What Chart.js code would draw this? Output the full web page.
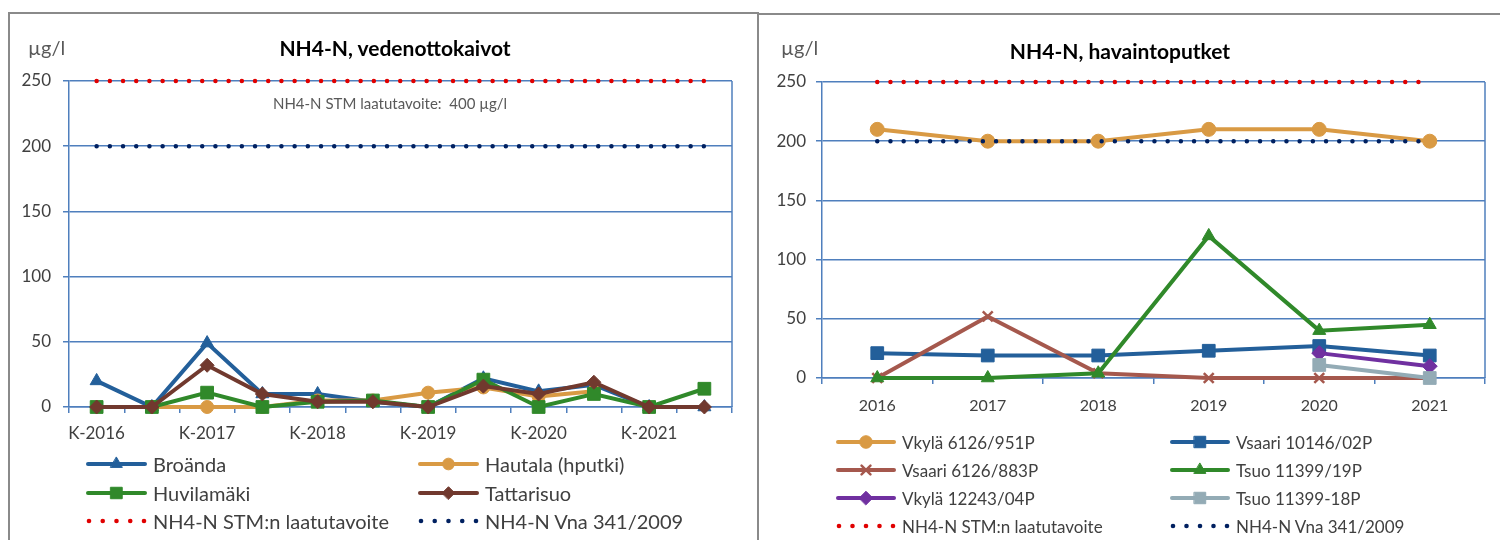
<!DOCTYPE html>
<html>
<head>
<meta charset="utf-8">
<script src="https://cdn.jsdelivr.net/npm/chart.js@4/dist/chart.umd.min.js"></script>
<style>
  body { margin: 0; width: 1500px; height: 540px; background: #fff; position: relative; overflow: hidden; font-family: Lato, "Noto Sans", sans-serif; }
  .panel { position: absolute; border: 2px solid #8a8a8a; box-sizing: border-box; background: #fff; }
  .chartbox { position: absolute; top: 0; height: 540px; }
  .title { position: absolute; font-weight: bold; font-size: 21px; color: #000; white-space: nowrap; transform: translate(-50%, -50%); }
  .unit { position: absolute; font-size: 20px; color: #595959; white-space: nowrap; transform: translateY(-50%); }
  .note { position: absolute; font-size: 15px; color: #595959; white-space: nowrap; transform: translate(-50%, -50%); }
  .item { position: absolute; display: flex; align-items: center; color: #404040; white-space: nowrap; transform: translateY(-50%); }
  .item canvas { margin-right: 6px; }
</style>
</head>
<body>
<div class="panel" style="left:8px; top:12px; width:751px; height:540px;"></div>
<div class="panel" style="left:757px; top:13px; width:760px; height:540px;"></div>

<div class="chartbox" style="left:0; width:757px;"><canvas id="wells" width="757" height="540"></canvas></div>
<div class="chartbox" style="left:759px; width:741px;"><canvas id="tubes" width="741" height="540"></canvas></div>

<div class="unit" style="left:28px; top:47px;">µg/l</div>
<div class="title" style="left:395px; top:47px;">NH4-N, vedenottokaivot</div>
<div class="note" style="left:390px; top:103px;">NH4-N STM laatutavoite:&nbsp; 400 µg/l</div>

<div class="unit" style="left:781px; top:47px;">µg/l</div>
<div class="title" style="left:1120px; top:50px;">NH4-N, havaintoputket</div>

<div id="legendWells"></div>
<div id="legendTubes"></div>

<script>
// ---- Well samples (spring / autumn rounds) ----
const seasonLabels = ['K-2016','S-2016','K-2017','S-2017','K-2018','S-2018','K-2019','S-2019','K-2020','S-2020','K-2021','S-2021'];
const broanda     = [20, 0, 49, 10, 10, 4, 0, 22, 12, 17, 0, 0];
const hautala     = [null, 0, 0, 0, 5, 5, 11, 15, 8, 12, null, null];
const huvilamaki  = [0, 0, 11, 0, 4, 5, 0, 21, 0, 10, 0, 14];
const tattarisuo  = [0, 0, 32, 10, 4, 4, 0, 16, 10, 19, 0, 0];
const stmLimitWells = [250, 250, 250, 250, 250, 250, 250, 250, 250, 250, 250, 250];
const vnaLimitWells = [200, 200, 200, 200, 200, 200, 200, 200, 200, 200, 200, 200];

// ---- Observation tubes (yearly) ----
const years = ['2016','2017','2018','2019','2020','2021'];
const vkyla951  = [210, 200, 200, 210, 210, 200];
const vsaari02  = [21, 19, 19, 23, 27, 19];
const vsaari883 = [0, 52, 4, 0, 0, 0];
const tsuo19    = [0, 0, 4, 120, 40, 45];
const vkyla04   = [null, null, null, null, 21, 10];
const tsuo18    = [null, null, null, null, 11, 0];
const stmLimitTubes = [250, 250, 250, 250, 250, 250];
const vnaLimitTubes = [200, 200, 200, 200, 200, 200];

const yTicks = [0, 50, 100, 150, 200, 250];

const GRID = '#4f7fbd';
const TEXT = '#404040';
const C = {
  blue: '#235f9a', tan: '#d99a44', green: '#30892a', brown: '#71392e',
  rust: '#a5584d', purple: '#7030a0', grey: '#93abb5', red: '#e00000', navy: '#002060'
};

Chart.defaults.font.family = 'Lato, "Noto Sans", sans-serif';
Chart.defaults.color = TEXT;

function series(label, data, color, style, radius) {
  return {
    label, data, borderColor: color, backgroundColor: color,
    borderWidth: 4, pointStyle: style, pointRadius: radius, pointHoverRadius: radius,
    pointBorderWidth: style === 'crossRot' ? 2.5 : 1, pointBorderColor: color, pointBackgroundColor: color,
    tension: 0, spanGaps: false, clip: false
  };
}
function limit(label, data, color) {
  return {
    label, data, borderColor: color, backgroundColor: color, borderWidth: 4.5,
    borderDash: [0, 13.2], borderCapStyle: 'round', pointRadius: 0, pointHoverRadius: 0,
    tension: 0, clip: false, isLimit: true
  };
}

// right-hand edge of the plot area
const plotFrame = {
  id: 'plotFrame',
  beforeDatasetsDraw(chart) {
    const { ctx, chartArea: { top, right, bottom } } = chart;
    ctx.save();
    ctx.strokeStyle = GRID; ctx.lineWidth = 1.5;
    ctx.beginPath(); ctx.moveTo(right, top); ctx.lineTo(right, bottom); ctx.stroke();
    ctx.restore();
  }
};

function buildChart(id, labels, datasets, cfg) {
  const n = datasets.length;
  datasets.forEach((d, i) => { d.order = n - i; });
  return new Chart(document.getElementById(id), {
    type: 'line',
    data: { labels, datasets },
    plugins: [plotFrame],
    options: {
      responsive: false, animation: false, devicePixelRatio: 1,
      layout: { padding: cfg.padding },
      plugins: { legend: { display: false }, tooltip: { enabled: false }, title: { display: false } },
      scales: {
        x: {
          offset: true,
          grid: { display: true, drawOnChartArea: false, drawTicks: true, tickLength: 6, offset: true, color: GRID, tickColor: GRID, lineWidth: 1.5 },
          border: { display: true, color: GRID, width: 1.5 },
          ticks: {
            autoSkip: false, maxRotation: 0, padding: cfg.xPad,
            font: { size: cfg.xFont }, color: TEXT,
            callback: cfg.xCallback
          },
          afterFit(s) { s.height = 40; }
        },
        y: {
          min: 0, max: 250,
          afterBuildTicks(s) { s.ticks = yTicks.map(v => ({ value: v })); },
          grid: { color: GRID, lineWidth: 1.5, drawTicks: true, tickLength: 6, tickColor: GRID },
          border: { display: true, color: GRID, width: 1.5 },
          ticks: { padding: cfg.yPad, font: { size: 17 }, color: TEXT },
          afterFit(s) { s.width = cfg.yWidth; }
        }
      }
    }
  });
}

const wellsSets = [
  series('Broända', broanda, C.blue, 'triangle', 7.5),
  series('Hautala (hputki)', hautala, C.tan, 'circle', 6.5),
  series('Huvilamäki', huvilamaki, C.green, 'rect', 9),
  series('Tattarisuo', tattarisuo, C.brown, 'rectRot', 7),
  limit('NH4-N STM:n laatutavoite', stmLimitWells, C.red),
  limit('NH4-N Vna 341/2009', vnaLimitWells, C.navy)
];
const wellsChart = buildChart('wells', seasonLabels, wellsSets, {
  padding: { top: 81, right: 25, bottom: 93, left: 0 },
  yWidth: 69, yPad: 12, xPad: 10, xFont: 17,
  xCallback(v, i) { return i % 2 === 0 ? this.getLabelForValue(v) : ''; }
});

const tubesSets = [
  series('Vkylä 6126/951P', vkyla951, C.tan, 'circle', 7),
  series('Vsaari 10146/02P', vsaari02, C.blue, 'rect', 9),
  series('Vsaari 6126/883P', vsaari883, C.rust, 'crossRot', 7),
  series('Tsuo 11399/19P', tsuo19, C.green, 'triangle', 7.5),
  series('Vkylä 12243/04P', vkyla04, C.purple, 'rectRot', 7.5),
  series('Tsuo 11399-18P', tsuo18, C.grey, 'rect', 9),
  limit('NH4-N STM:n laatutavoite', stmLimitTubes, C.red),
  limit('NH4-N Vna 341/2009', vnaLimitTubes, C.navy)
];
const tubesChart = buildChart('tubes', years, tubesSets, {
  padding: { top: 82, right: 15, bottom: 122, left: 0 },
  yWidth: 63, yPad: 10, xPad: 12, xFont: 16,
  xCallback(v) { return this.getLabelForValue(v); }
});

// ---- two-column legends built from the dataset styles ----
function legend(containerId, datasets, opt) {
  const box = document.getElementById(containerId);
  datasets.forEach((d, i) => {
    const col = i % 2, row = Math.floor(i / 2);
    const item = document.createElement('div');
    item.className = 'item';
    item.style.left = opt.cols[col] + 'px';
    item.style.top = (opt.rows[row]) + 'px';
    item.style.fontSize = opt.font + 'px';
    const cv = document.createElement('canvas');
    cv.width = opt.iconW; cv.height = 22;
    const ctx = cv.getContext('2d');
    const my = 11;
    if (d.isLimit) {
      ctx.fillStyle = d.borderColor;
      for (let k = 0; k < 5; k++) {
        ctx.beginPath(); ctx.arc(3 + k * (opt.iconW - 6) / 4, my, 2.3, 0, Math.PI * 2); ctx.fill();
      }
    } else {
      ctx.strokeStyle = d.borderColor; ctx.lineWidth = 4; ctx.lineCap = 'round';
      ctx.beginPath(); ctx.moveTo(2, my); ctx.lineTo(opt.iconW - 2, my); ctx.stroke();
      ctx.fillStyle = d.pointBackgroundColor; ctx.strokeStyle = d.pointBorderColor;
      ctx.lineWidth = d.pointBorderWidth;
      Chart.helpers.drawPoint(ctx, { pointStyle: d.pointStyle, radius: d.pointRadius * 0.9, rotation: 0, borderWidth: d.pointBorderWidth }, opt.iconW / 2, my);
    }
    const span = document.createElement('span');
    span.textContent = d.label;
    item.appendChild(cv); item.appendChild(span);
    box.appendChild(item);
  });
}
legend('legendWells', wellsSets, { cols: [86, 418], rows: [464, 492.5, 521], iconW: 61, font: 20 });
legend('legendTubes', tubesSets, { cols: [836, 1170], rows: [442, 470, 498, 526], iconW: 60, font: 17 });
</script>
</body>
</html>
